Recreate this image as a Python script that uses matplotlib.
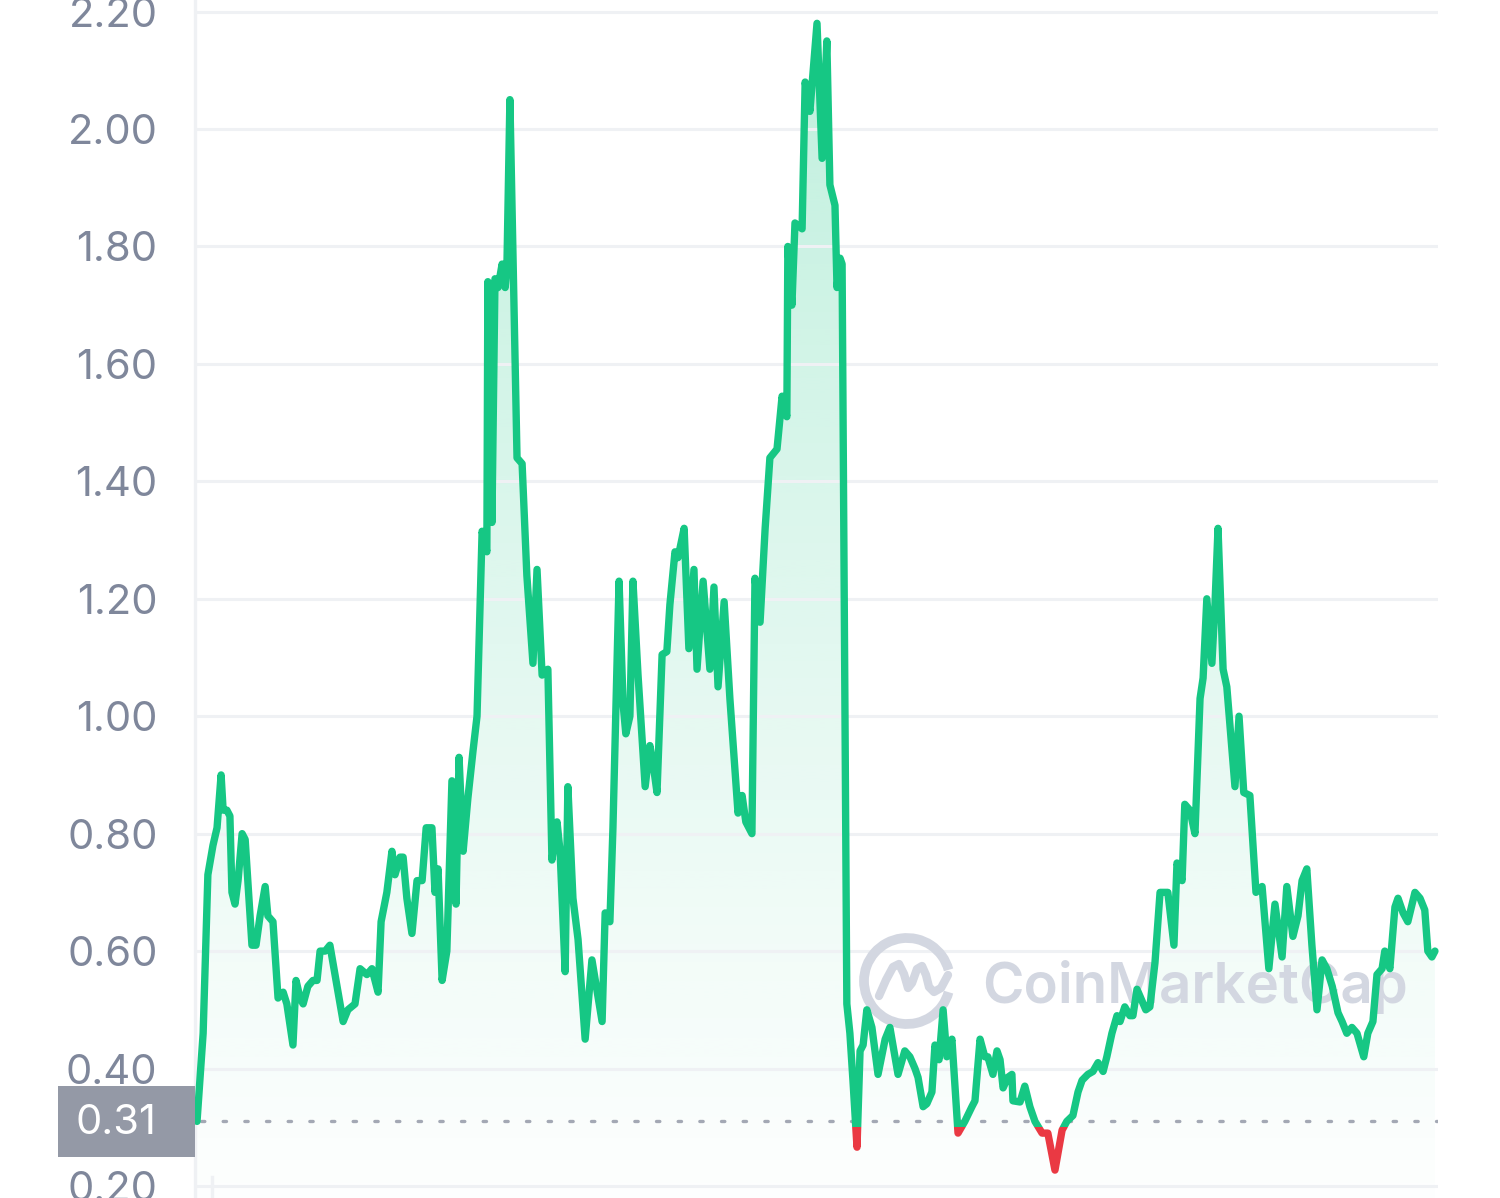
import numpy as np
import matplotlib
matplotlib.use("Agg")
import matplotlib.pyplot as plt
from matplotlib import transforms
from matplotlib.patches import Rectangle, Arc, Polygon
from matplotlib.lines import Line2D

plt.rcParams['font.family'] = ['Inter', 'DejaVu Sans']

# price history (day index, price in USD)
days = [0, 1.8, 3.2, 4.7, 5.9, 7.1, 7.7, 8.8, 9.7, 10.3, 11.2, 12.1, 13.3, 14.2, 16.2, 17.4,
        18.6, 20.1, 20.9, 22.4, 23.9, 25.4, 26.5, 28.3, 29.2, 30.4, 31.3, 32.7, 34.2, 35.4,
        36.3, 37.8, 39.2, 40.7, 41.6, 43.1, 44.5, 46.6, 48.1, 50.1, 51.6, 53.4, 54.3, 56.0,
        57.5, 58.4, 59.9, 60.8, 61.9, 63.4, 64.9, 66.4, 67.6, 69.3, 70.2, 71.1, 72.3, 73.7,
        75.2, 76.4, 77.3, 78.5, 79.9, 81.4, 82.6, 84.1, 85.5, 85.8, 87.0, 87.9, 88.8, 90.0,
        90.9, 91.4, 92.3, 94.4, 95.9, 97.3, 99.1, 100.3, 101.8, 103.5, 104.7, 106.2, 107.1,
        108.6, 109.4, 110.9, 112.4, 114.5, 116.5, 119.5, 120.4, 121.8, 122.7, 124.5, 125.7,
        126.5, 127.7, 128.6, 130.1, 132.2, 133.6, 134.5, 135.7, 137.2, 138.6, 139.5, 141.0,
        141.9, 143.7, 145.1, 146.6, 147.5, 149.3, 151.3, 152.5, 153.7, 155.5, 157.2, 159.6,
        160.8, 161.9, 163.7, 164.6, 166.1, 167.6, 169.0, 171.1, 172.6, 174.0, 174.3, 175.5,
        176.4, 178.5, 179.4, 180.8, 182.9, 184.4, 185.8, 186.7, 188.2, 188.8, 189.7, 190.3,
        191.7, 192.6, 193.5, 194.7, 195.6, 196.5, 197.6, 199.1, 200.9, 203.0, 204.4, 206.8,
        208.8, 210.3, 211.8, 212.7, 214.2, 215.3, 216.8, 217.7, 218.9, 220.1, 221.2, 222.7,
        224.5, 226.5, 228.6, 229.5, 231.0, 232.4, 233.3, 234.8, 236.0, 236.9, 237.8, 239.2,
        240.4, 240.7, 242.8, 244.2, 245.7, 247.2, 249.3, 251.0, 253.1, 255.2, 256.6, 258.4,
        259.9, 261.1, 262.8, 264.3, 265.8, 267.3, 268.4, 269.9, 271.4, 272.3, 273.7, 275.2,
        276.1, 277.3, 279.9, 281.1, 282.6, 284.1, 286.4, 288.2, 289.1, 290.6, 291.4, 292.9,
        294.4, 295.9, 296.8, 297.9, 299.4, 300.3, 301.2, 302.7, 303.8, 306.2, 307.4, 308.8,
        310.6, 312.4, 314.2, 316.2, 318.0, 320.1, 321.5, 323.3, 324.8, 326.0, 327.4, 328.9,
        330.4, 331.9, 333.3, 334.9, 336.6, 337.8, 339.2, 340.7, 342.2, 344.2, 345.4, 346.9,
        348.1, 349.6, 350.4, 351.9, 353.4, 354.3, 355.8, 357.2, 359.3, 360.8, 362.2, 363.1,
        364.3, 365.2]
price = [0.31, 0.46, 0.73, 0.78, 0.81, 0.90, 0.84, 0.84, 0.83, 0.70, 0.68, 0.72, 0.80, 0.79,
         0.61, 0.61, 0.66, 0.71, 0.66, 0.65, 0.52, 0.53, 0.51, 0.44, 0.55, 0.52, 0.51, 0.54,
         0.55, 0.55, 0.60, 0.60, 0.61, 0.56, 0.53, 0.48, 0.50, 0.51, 0.57, 0.56, 0.57, 0.53,
         0.65, 0.70, 0.77, 0.73, 0.76, 0.76, 0.69, 0.63, 0.72, 0.72, 0.81, 0.81, 0.70, 0.74,
         0.55, 0.60, 0.89, 0.68, 0.93, 0.77, 0.86, 0.94, 1.00, 1.315, 1.28, 1.74, 1.33, 1.745,
         1.73, 1.77, 1.73, 1.76, 2.05, 1.44, 1.43, 1.24, 1.09, 1.25, 1.07, 1.08, 0.755, 0.82,
         0.77, 0.565, 0.88, 0.69, 0.62, 0.45, 0.585, 0.48, 0.665, 0.65, 0.81, 1.23, 1.02, 0.97,
         1.00, 1.23, 1.07, 0.88, 0.95, 0.92, 0.87, 1.105, 1.11, 1.19, 1.28, 1.27, 1.32, 1.115,
         1.25, 1.08, 1.23, 1.08, 1.22, 1.05, 1.195, 1.03, 0.835, 0.865, 0.82, 0.80, 1.235, 1.16,
         1.32, 1.44, 1.455, 1.545, 1.51, 1.80, 1.70, 1.84, 1.83, 2.08, 2.03, 2.18, 1.95, 2.15,
         1.905, 1.87, 1.73, 1.78, 1.77, 0.51, 0.46, 0.38, 0.266, 0.43, 0.44, 0.50, 0.47, 0.39,
         0.45, 0.47, 0.39, 0.43, 0.42, 0.40, 0.385, 0.335, 0.34, 0.36, 0.44, 0.415, 0.50, 0.42,
         0.45, 0.29, 0.31, 0.335, 0.345, 0.45, 0.42, 0.42, 0.39, 0.43, 0.415, 0.367, 0.385,
         0.39, 0.345, 0.343, 0.37, 0.335, 0.31, 0.29, 0.29, 0.227, 0.295, 0.31, 0.32, 0.36,
         0.38, 0.39, 0.395, 0.41, 0.395, 0.42, 0.46, 0.49, 0.48, 0.505, 0.49, 0.49, 0.535,
         0.50, 0.505, 0.58, 0.70, 0.70, 0.61, 0.75, 0.72, 0.85, 0.84, 0.80, 1.03, 1.065, 1.20,
         1.09, 1.19, 1.32, 1.08, 1.05, 0.88, 1.00, 0.87, 0.865, 0.70, 0.71, 0.57, 0.68, 0.59,
         0.71, 0.625, 0.66, 0.72, 0.74, 0.61, 0.50, 0.585, 0.57, 0.54, 0.495, 0.48, 0.46, 0.47,
         0.46, 0.42, 0.46, 0.48, 0.56, 0.57, 0.60, 0.57, 0.675, 0.69, 0.665, 0.65, 0.70, 0.69,
         0.67, 0.60, 0.59, 0.60]

y_ticks = [0.20, 0.40, 0.60, 0.80, 1.00, 1.20, 1.40, 1.60, 1.80, 2.00, 2.20]
open_price = 0.31

green = '#16c784'
red = '#ea3943'
grid_col = '#eff1f4'
label_col = '#7f879b'

W, H = 1500, 1198
fig = plt.figure(figsize=(W / 100, H / 100), dpi=100)
ax = fig.add_axes([195 / W, 0, (1438 - 195) / W, 1])
ax.set_xlim(-0.6, 366.1)
ax.set_ylim(0.1795, 2.2197)

# pixel helper for decorations (top-left origin)
px = transforms.Affine2D().scale(1 / W, -1 / H).translate(0, 1) + fig.transFigure

# grid + axis styling
ax.set_yticks(y_ticks)
ax.set_yticklabels(['%.2f' % v for v in y_ticks])
ax.set_xticks([])
ax.grid(axis='y', color=grid_col, linewidth=2.2, zorder=0)
for s in ['top', 'right', 'bottom']:
    ax.spines[s].set_visible(False)
ax.spines['left'].set_color(grid_col)
ax.spines['left'].set_linewidth(2.4)
ax.tick_params(axis='y', length=0, pad=27, labelsize=30, labelcolor=label_col)

# gradient fill under the line
x = np.array(days)
y = np.array(price)
verts = [(x[0], 0.1795)] + list(zip(x, y)) + [(x[-1], 0.1795)]
poly = Polygon(verts, closed=True, facecolor='none', edgecolor='none')
ax.add_patch(poly)
grad = np.linspace(0, 1, 256).reshape(-1, 1)
rgba = np.zeros((256, 1, 4))
rgba[..., :3] = matplotlib.colors.to_rgb(green)
rgba[..., 3] = 0.01 + 0.27 * grad ** 1.1
img = ax.imshow(rgba, extent=[x[0], x[-1], 0.1795, 2.2197], origin='lower',
                aspect='auto', zorder=1, interpolation='bilinear')
img.set_clip_path(poly)

# baseline (open price)
ax.axhline(open_price, color='#a3a8b4', linewidth=2.4, linestyle=(0, (1, 5.5)),
           dash_capstyle='round', zorder=2, xmin=0.005)

# watermark (under the line)
wm_col = '#d3d7e1'
ax.text(982, 987, 'CoinMarketCap', transform=px, fontsize=40.5, fontweight='semibold',
        color=wm_col, ha='left', va='center', zorder=3)
ring = Arc((907, 981), 86, 86, theta1=15, theta2=345, transform=px,
           color=wm_col, linewidth=7, zorder=3)
ax.add_patch(ring)
m_x = [879, 886, 893, 899, 904, 908, 912, 917, 922, 926, 929, 934, 941, 948]
m_y = [996, 980, 967, 964, 974, 988, 983, 969, 966, 975, 987, 992, 988, 975]
ax.add_line(Line2D(m_x, m_y, transform=px, color=wm_col, linewidth=6,
                   solid_capstyle='round', solid_joinstyle='round', zorder=3))

# price line, green above the open price and red below it
line_g, = ax.plot(x, y, color=green, linewidth=5.3, solid_joinstyle='round',
                  solid_capstyle='round', zorder=5)
line_r, = ax.plot(x, y, color=red, linewidth=5.3, solid_joinstyle='round',
                  solid_capstyle='round', zorder=6)
clip_hi = Rectangle((-10, open_price - 0.01), 400, 5, transform=ax.transData)
clip_lo = Rectangle((-10, -5), 400, 5 + open_price - 0.01, transform=ax.transData)
line_g.set_clip_path(clip_hi)
line_r.set_clip_path(clip_lo)

# open-price tag on the left
fig.patches.append(Rectangle((58, 1086), 137, 71, transform=px,
                             facecolor='#9499a6', edgecolor='none', zorder=10))
fig.text(156 / W, 1 - 1123 / H, '%.2f' % open_price, fontsize=30, color='white',
         ha='right', va='center', zorder=11)

# small x tick at the bottom
fig.lines.append(Line2D([212, 212], [1177, 1198], transform=px, color=grid_col,
                        linewidth=2.4))

fig.savefig('out.png', dpi=100)
